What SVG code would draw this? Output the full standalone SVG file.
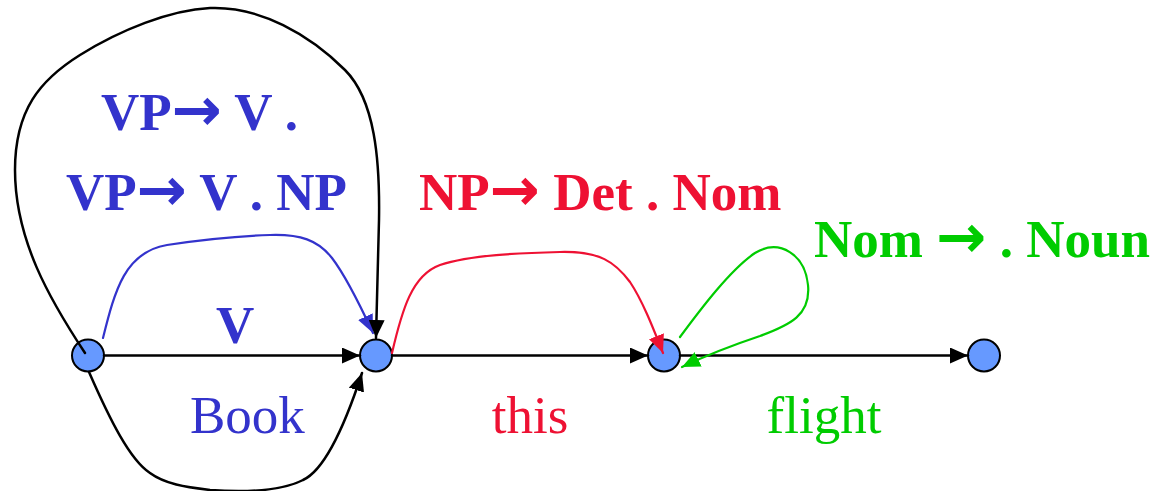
<svg xmlns="http://www.w3.org/2000/svg" width="1161" height="491" viewBox="0 0 1161 491">
<defs>
<style>
.node{fill:#6699FF;stroke:#000;stroke-width:2}
.c{fill:none;stroke-linecap:round}
.k{stroke:#000;stroke-width:2.5}
.b{stroke:#3333CC;stroke-width:2.2}
.r{stroke:#EE1133;stroke-width:2.2}
.g{stroke:#00CC00;stroke-width:2.2}
.t{font-family:"Liberation Serif","Times New Roman",serif;font-size:53px}
.bold{font-weight:bold}
.arr{font-family:"DejaVu Sans",sans-serif;font-weight:bold;font-size:60px}
</style>
<marker id="ak" markerUnits="userSpaceOnUse" markerWidth="18" markerHeight="16" refX="18" refY="8" orient="auto"><path d="M0,0 L18,8 L0,16 z" fill="#000"/></marker>
<marker id="ab" markerUnits="userSpaceOnUse" markerWidth="18" markerHeight="16" refX="18" refY="8" orient="auto"><path d="M0,0 L18,8 L0,16 z" fill="#3333CC"/></marker>
<marker id="ar" markerUnits="userSpaceOnUse" markerWidth="18" markerHeight="16" refX="18" refY="8" orient="auto"><path d="M0,0 L18,8 L0,16 z" fill="#EE1133"/></marker>
<marker id="ag" markerUnits="userSpaceOnUse" markerWidth="18" markerHeight="16" refX="18" refY="8" orient="auto"><path d="M0,0 L18,8 L0,16 z" fill="#00CC00"/></marker>
</defs>
<rect width="1161" height="491" fill="#fff"/>
<g id="n1"><circle class="node" cx="88" cy="355.5" r="16"/></g>
<g id="n2"><circle class="node" cx="376" cy="355.5" r="16"/></g>
<g id="n3"><circle class="node" cx="664" cy="355.5" r="16"/></g>
<g id="n4"><circle class="node" cx="984" cy="355.5" r="16"/></g>
<g id="connectors">
<line class="c k" x1="104" y1="355.5" x2="360" y2="355.5" marker-end="url(#ak)"/>
<line class="c k" x1="392" y1="355.5" x2="648" y2="355.5" marker-end="url(#ak)"/>
<line class="c k" x1="680" y1="355.5" x2="968" y2="355.5" marker-end="url(#ak)"/>
<path class="c b" d="M103,338 C115,290 125,252 167,245 C200,240 240,236 270,235 C300,234 318,240 332,258 C345,275 360,305 373,333" marker-end="url(#ab)"/>
<path class="c k" d="M85,353 C50,300 15,240 15,170 C15,110 40,80 80,55 C120,30 170,10 210,8 C260,6 310,35 345,70 C375,100 380,160 379,220 C378,270 377,310 376,338" marker-end="url(#ak)"/>
<path class="c k" d="M89,372 C110,420 130,460 150,473 C165,484 185,487 210,490 C240,492 280,492 303,480 C325,470 345,425 362,373" marker-end="url(#ak)"/>
<path class="c r" d="M392,353 C402,310 412,275 440,265 C470,255 520,253 560,252 C600,251 615,262 630,282 C642,300 652,325 663,353" marker-end="url(#ar)"/>
<path class="c g" d="M680,337 C700,310 730,270 755,253 C780,238 805,255 808,285 C811,315 790,325 760,336 C730,346 705,356 682,367" marker-end="url(#ag)"/>
</g>
<g id="labels">
<text class="t bold" x="101" y="130" fill="#3333CC">VP<tspan class="arr">→</tspan> V .</text>
<text class="t bold" x="66" y="210" fill="#3333CC">VP<tspan class="arr">→</tspan> V . NP</text>
<text class="t bold" x="216" y="343" fill="#3333CC">V</text>
<text class="t" x="190" y="433" fill="#3333CC">Book</text>
<text class="t bold" x="419" y="210" fill="#EE1133">NP<tspan class="arr">→</tspan> Det . Nom</text>
<text class="t" x="530" y="433" fill="#EE1133" text-anchor="middle">this</text>
<text class="t bold" x="814" y="257" fill="#00CC00">Nom <tspan class="arr">→</tspan> . Noun</text>
<text class="t" x="824" y="433" fill="#00CC00" text-anchor="middle">flight</text>
</g>
</svg>
